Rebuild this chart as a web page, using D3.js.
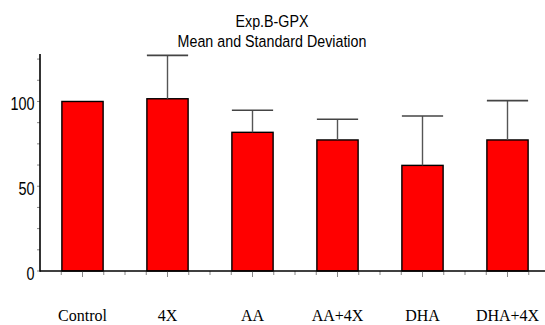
<!DOCTYPE html>
<html>
<head>
<meta charset="utf-8">
<script src="https://cdn.jsdelivr.net/npm/d3@7"></script>
<style>
  html, body { margin: 0; padding: 0; background: #fff; }
  svg { display: block; }
</style>
</head>
<body>
<div id="chart"></div>
<script>
const categories = ["Control", "4X", "AA", "AA+4X", "DHA", "DHA+4X"];
const means = [100, 101.6, 81.8, 77.3, 62.3, 77.3];
const sds = [0, 25.6, 13, 12.2, 29.1, 23.2];
const yTickLabels = [0, 50, 100];
const yMinorTicks = [0, 12.5, 25, 37.5, 50, 62.5, 75, 87.5, 100, 112.5, 125];
const titleLines = ["Exp.B-GPX", "Mean and Standard Deviation"];

const W = 545, H = 325;
const svg = d3.select("#chart").append("svg").attr("width", W).attr("height", H);

const x = d3.scaleBand().domain(categories).range([40, 550]).paddingInner(0).paddingOuter(0);
const y = d3.scaleLinear().domain([0, 128]).range([271, 54]);
const barW = x.bandwidth() * 0.485;

// Title
const sansFont = "'Liberation Sans', Arial, sans-serif";
titleLines.forEach((t, i) => {
  svg.append("g").attr("transform", `translate(272,${27 + i * 19.5})`)
    .append("text")
    .attr("transform", "scale(0.84,1)")
    .attr("text-anchor", "middle")
    .attr("font-family", sansFont)
    .attr("font-size", 17)
    .attr("fill", "#000")
    .text(t);
});

// Bars
svg.append("g").selectAll("rect").data(categories).join("rect")
  .attr("x", (d) => x(d) + x.bandwidth() / 2 - barW / 2)
  .attr("y", (d, i) => y(means[i]))
  .attr("width", barW)
  .attr("height", (d, i) => y(0) - y(means[i]))
  .attr("fill", "#ff0000")
  .attr("stroke", "#000")
  .attr("stroke-width", 1.4);

// Error bars
const eb = svg.append("g");
categories.forEach((c, i) => {
  if (sds[i] <= 0) return;
  const cx = x(c) + x.bandwidth() / 2;
  eb.append("line")
    .attr("x1", cx).attr("x2", cx)
    .attr("y1", y(means[i])).attr("y2", y(means[i] + sds[i]))
    .attr("stroke", "#555").attr("stroke-width", 1.4);
  eb.append("line")
    .attr("x1", cx - barW / 2).attr("x2", cx + barW / 2)
    .attr("y1", y(means[i] + sds[i])).attr("y2", y(means[i] + sds[i]))
    .attr("stroke", "#444").attr("stroke-width", 1.6);
});

// X ticks (quarter-band)
const xt = svg.append("g");
categories.forEach((c) => {
  for (let k = 0; k < 4; k++) {
    const px = x(c) + k * x.bandwidth() / 4;
    if (px <= 41) continue;
    xt.append("line")
      .attr("x1", px).attr("x2", px)
      .attr("y1", y(0)).attr("y2", y(0) + (k === 2 ? 6 : 4))
      .attr("stroke", "#888").attr("stroke-width", 1);
  }
});

// Y minor ticks
svg.append("g").selectAll("line").data(yMinorTicks).join("line")
  .attr("x1", 37).attr("x2", 40)
  .attr("y1", (d) => y(d)).attr("y2", (d) => y(d))
  .attr("stroke", "#888").attr("stroke-width", 1);

// Axes lines
svg.append("line").attr("x1", 40).attr("x2", 40).attr("y1", y(128)).attr("y2", y(0) + 0.8)
  .attr("stroke", "#000").attr("stroke-width", 1.6);
svg.append("line").attr("x1", 40).attr("x2", 545).attr("y1", y(0)).attr("y2", y(0))
  .attr("stroke", "#000").attr("stroke-width", 1.6);

// Y labels
yTickLabels.forEach((v) => {
  svg.append("g").attr("transform", `translate(34.5,${y(v) + 8.5})`)
    .append("text")
    .attr("transform", "scale(0.8,1)")
    .attr("text-anchor", "end")
    .attr("font-family", sansFont)
    .attr("font-size", 18)
    .attr("fill", "#000")
    .text(v);
});

// X labels
svg.append("g").selectAll("text").data(categories).join("text")
  .attr("x", (d) => x(d) + x.bandwidth() / 2)
  .attr("y", 321)
  .attr("text-anchor", "middle")
  .attr("font-family", "'Liberation Serif', 'Times New Roman', serif")
  .attr("font-size", 16)
  .attr("fill", "#000")
  .text((d) => d);
</script>
</body>
</html>
